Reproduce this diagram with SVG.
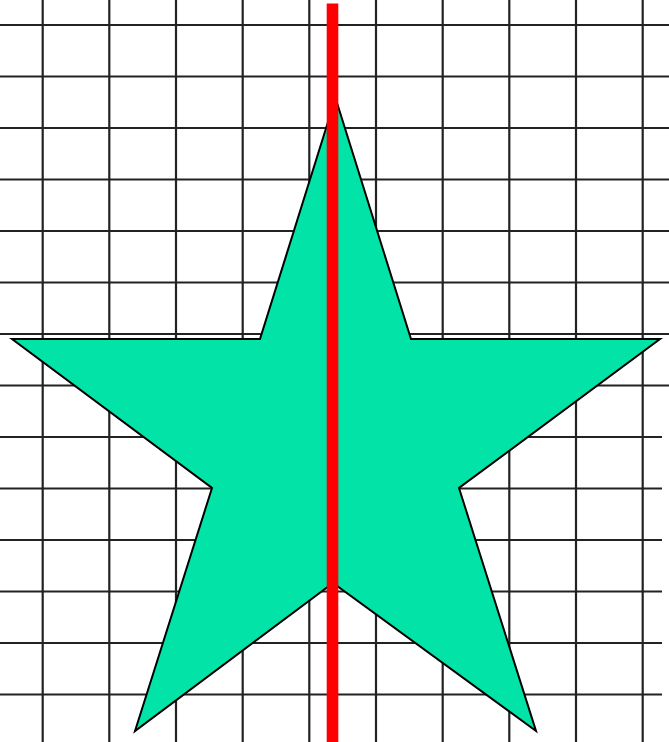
<svg xmlns="http://www.w3.org/2000/svg" width="669" height="742" viewBox="0 0 669 742">
<style>
.g line{stroke:#222;stroke-width:2.2}
</style>
<rect width="669" height="742" fill="#fff"/>
<g id="grid" class="g">
<line x1="42.7" y1="0" x2="42.7" y2="742"/>
<line x1="109.3" y1="0" x2="109.3" y2="742"/>
<line x1="176" y1="0" x2="176" y2="742"/>
<line x1="242.7" y1="0" x2="242.7" y2="742"/>
<line x1="309.3" y1="0" x2="309.3" y2="742"/>
<line x1="376" y1="0" x2="376" y2="742"/>
<line x1="442.7" y1="0" x2="442.7" y2="742"/>
<line x1="509.3" y1="0" x2="509.3" y2="742"/>
<line x1="576" y1="0" x2="576" y2="742"/>
<line x1="642.7" y1="0" x2="642.7" y2="742"/>
<line x1="0" y1="25" x2="669" y2="25"/>
<line x1="0" y1="76.5" x2="669" y2="76.5"/>
<line x1="0" y1="128" x2="669" y2="128"/>
<line x1="0" y1="179.5" x2="669" y2="179.5"/>
<line x1="0" y1="231" x2="669" y2="231"/>
<line x1="0" y1="282.5" x2="669" y2="282.5"/>
<line x1="0" y1="334" x2="669" y2="334"/>
<line x1="0" y1="385.5" x2="669" y2="385.5"/>
<line x1="0" y1="437" x2="662" y2="437"/>
<line x1="0" y1="488.5" x2="662" y2="488.5"/>
<line x1="0" y1="540" x2="662" y2="540"/>
<line x1="0" y1="591.5" x2="662" y2="591.5"/>
<line x1="0" y1="643" x2="662" y2="643"/>
<line x1="0" y1="694.5" x2="662" y2="694.5"/>
</g>
<g id="star">
<polygon points="335.5,98 411,339 660,339 459,488 536,731 333,583 135,731 212,488 12,339 260,339" fill="#02E3A8" stroke="#000" stroke-width="2" stroke-linejoin="miter"/>
</g>
<g id="axis">
<rect x="326.7" y="3.5" width="11.6" height="738.5" fill="#ff0000"/>
</g>
</svg>
